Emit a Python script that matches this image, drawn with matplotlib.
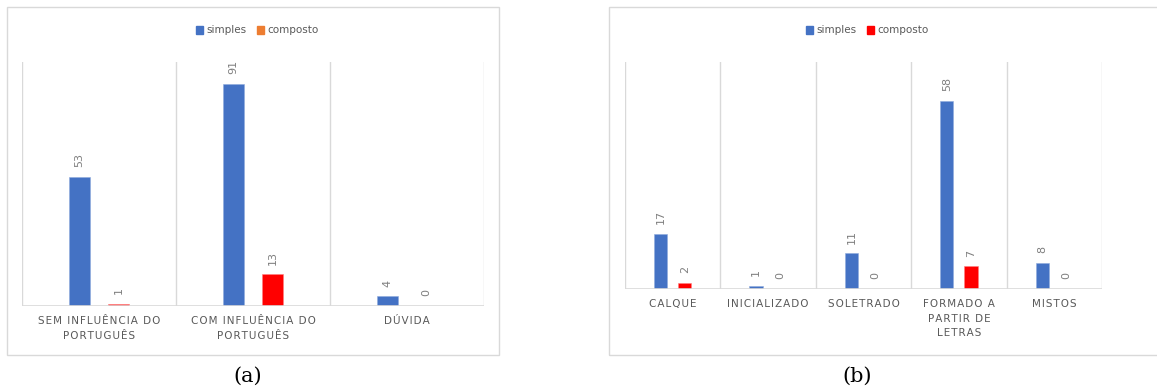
import matplotlib
matplotlib.use('agg')
import matplotlib.pyplot as plt
from matplotlib.patches import Rectangle
import numpy as np

W, H = 1157, 392

# panel (a)
cats_a = ["SEM INFLUÊNCIA DO\nPORTUGUÊS", "COM INFLUÊNCIA DO\nPORTUGUÊS", "DÚVIDA"]
simples_a = [53, 91, 4]
composto_a = [1, 13, 0]

# panel (b)
cats_b = ["CALQUE", "INICIALIZADO", "SOLETRADO", "FORMADO A\nPARTIR DE\nLETRAS", "MISTOS"]
simples_b = [17, 1, 11, 58, 8]
composto_b = [2, 0, 0, 7, 0]

BLUE = "#4472C4"
RED = "#FF0000"
ORANGE = "#ED7D31"
GRID = "#D9D9D9"
TXT = "#595959"


def px_box(x0, y0, x1, y1):
    # pixel box (from top-left) -> figure fraction rect
    return [x0 / W, 1 - y1 / H, (x1 - x0) / W, (y1 - y0) / H]


def spaced(s):
    return "\n".join("\u200a".join(line) for line in s.split("\n"))


def draw_panel(fig, box, cats, s, c, ymax, legend_red, legend_x):
    ax = fig.add_axes(px_box(*box))
    n = len(cats)
    x = np.arange(n)
    w = 0.137
    off = 0.127
    ax.bar(x - off, s, w, color=BLUE, edgecolor="#8FAADC", linewidth=0.4)
    ax.bar(x + off, c, w, color=RED, edgecolor="#FF8080", linewidth=0.4)
    for xs, vals in ((x - off, s), (x + off, c)):
        for xi, v in zip(xs, vals):
            ax.annotate(str(v), (xi, v), xytext=(0, 7), textcoords="offset points",
                        rotation=90, ha="center", va="bottom",
                        fontsize=8, color="#7F7F7F")
    ax.set_xlim(-0.5, n - 0.5)
    ax.set_ylim(0, ymax)
    for b in np.arange(n + 1) - 0.5:
        ax.axvline(b, color=GRID, lw=1.0, zorder=0)
    ax.axhline(0, color=GRID, lw=1.2, zorder=3)
    for sp in ax.spines.values():
        sp.set_visible(False)
    ax.set_yticks([])
    ax.set_xticks(x)
    ax.set_xticklabels([spaced(t) for t in cats], fontsize=7.5, color=TXT,
                       linespacing=1.6)
    ax.tick_params(axis="x", length=0, pad=7)

    # legend above the plot area
    ly = 30
    fig.patches.append(Rectangle((legend_x / W, 1 - (ly + 4) / H), 7 / W, 8 / H,
                                 transform=fig.transFigure, color=BLUE))
    fig.text((legend_x + 10) / W, 1 - ly / H, "simples", fontsize=7.5, color=TXT,
             va="center", ha="left")
    fig.patches.append(Rectangle(((legend_x + 61) / W, 1 - (ly + 4) / H), 7 / W, 8 / H,
                                 transform=fig.transFigure,
                                 color=legend_red))
    fig.text((legend_x + 71) / W, 1 - ly / H, "composto", fontsize=7.5, color=TXT,
             va="center", ha="left")
    return ax


fig = plt.figure(figsize=(W / 100, H / 100), dpi=100)
fig.patch.set_facecolor("white")

# outer frames
fig.patches.append(Rectangle((7 / W, 1 - 355 / H), 492 / W, 348 / H,
                             transform=fig.transFigure, fill=False,
                             edgecolor=GRID, lw=1.0))
fig.patches.append(Rectangle((609 / W, 1 - 355 / H), 560 / W, 348 / H,
                             transform=fig.transFigure, fill=False,
                             edgecolor=GRID, lw=1.0))

draw_panel(fig, (22, 62, 484, 306), cats_a, simples_a, composto_a, 100, ORANGE, 196)
draw_panel(fig, (625, 62, 1102, 289), cats_b, simples_b, composto_b, 70, RED, 806)

fig.text(248 / W, 1 - 376 / H, "(a)", fontsize=15, family="DejaVu Serif",
         ha="center", va="center")
fig.text(857 / W, 1 - 376 / H, "(b)", fontsize=15, family="DejaVu Serif",
         ha="center", va="center")

fig.savefig("out.png", dpi=100)
